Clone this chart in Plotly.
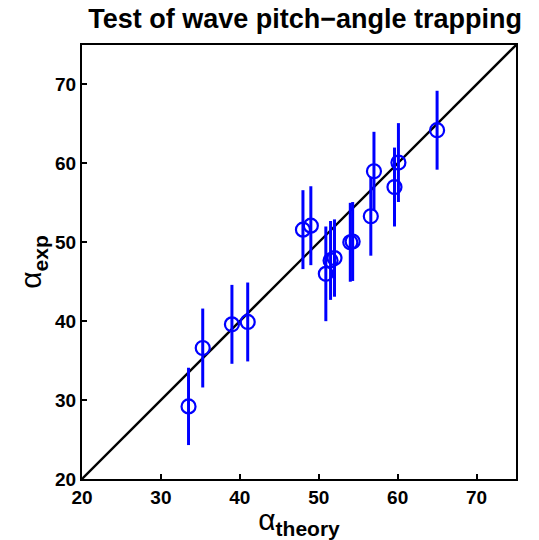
import plotly.graph_objects as go

# Data
alpha_theory = [33.5, 35.3, 39.0, 41.0, 48.0, 49.0, 50.9, 51.5, 52.0, 54.0, 54.3, 56.6, 57.0, 59.6, 60.1, 65.0]
alpha_exp    = [29.2, 36.6, 39.6, 39.9, 51.6, 52.1, 46.0, 47.7, 48.0, 50.0, 50.1, 53.3, 59.0, 57.0, 60.1, 64.2]
alpha_err    = [4.9, 5.0, 5.0, 5.0, 5.0, 5.0, 6.0, 5.0, 4.9, 5.0, 5.0, 5.0, 5.0, 5.0, 5.0, 5.0]
diag_line = [20, 75]
tick_vals = [20, 30, 40, 50, 60, 70]

fig = go.Figure()
fig.add_trace(go.Scatter(x=diag_line, y=diag_line, mode="lines",
                         line=dict(color="black", width=2.3), hoverinfo="skip",
                         showlegend=False))
fig.add_trace(go.Scatter(
    x=alpha_theory, y=alpha_exp, mode="markers",
    marker=dict(symbol="circle-open", size=14, color="#0000ff", line=dict(width=2.2, color="#0000ff")),
    error_y=dict(type="data", array=alpha_err, visible=True, color="#0000ff", thickness=3, width=0),
    showlegend=False))

font_family = "Liberation Sans, Arial, Helvetica, sans-serif"
axis_common = dict(range=[20, 75], tickvals=tick_vals, ticks="inside", ticklen=5, tickwidth=1.5,
                   tickcolor="black", showline=True, linecolor="black", linewidth=2.2, mirror=True,
                   showgrid=False, zeroline=False,
                   tickfont=dict(family=font_family, size=19, color="black", weight="bold"))

fig.update_layout(
    width=539, height=540,
    margin=dict(l=82, r=23, t=45, b=61),
    paper_bgcolor="white", plot_bgcolor="white",
    title=dict(text="<b>Test of wave pitch−angle trapping</b>", x=0.566, xanchor="center",
               y=0.965, yanchor="middle",
               font=dict(family=font_family, size=27, color="black")),
    xaxis=dict(**axis_common,
               title=dict(text="α<sub><b>theory</b></sub>", standoff=0,
                          font=dict(family=font_family, size=30, color="black"))),
    yaxis=dict(**axis_common,
               title=dict(text="α<sub><b>exp</b></sub>", standoff=4,
                          font=dict(family=font_family, size=30, color="black"))),
)

fig.write_html("out.html")
